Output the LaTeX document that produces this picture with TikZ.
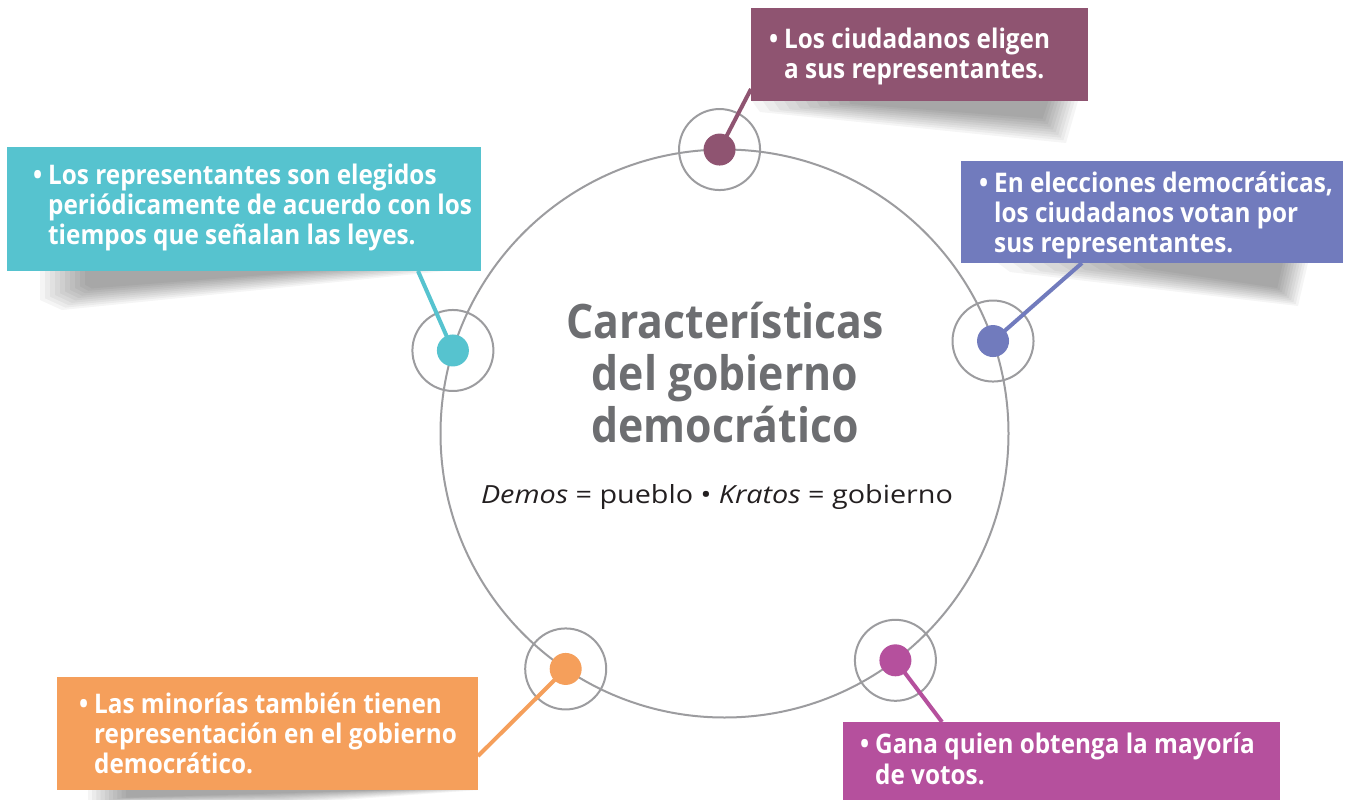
\documentclass[tikz,border=0pt]{standalone}
\usepackage{fontspec}
\setmainfont{Open Sans}[FakeStretch=0.9]
\newfontfamily\subfont{Open Sans}[FakeStretch=1.15]
\usetikzlibrary{calc}
\definecolor{cPurple}{HTML}{8F5471}
\definecolor{cCyan}{HTML}{56C3CF}
\definecolor{cBlue}{HTML}{717BBD}
\definecolor{cOrange}{HTML}{F59F5B}
\definecolor{cMagenta}{HTML}{B5509D}
\definecolor{cRing}{HTML}{9C9C9F}
\definecolor{cTitle}{HTML}{6D6E71}
\definecolor{cInk}{HTML}{231F20}
% soft shadow: quadrilateral blended from an outer outline (odd args) to an inner core (even args)
\newcommand\softshadow[8]{%
  \foreach \t in {0,0.1,...,0.95}{%
    \fill[shadowlayer] ($#1!\t!#2$) -- ($#3!\t!#4$) -- ($#5!\t!#6$) -- ($#7!\t!#8$) -- cycle;}}
\begin{document}
\begin{tikzpicture}[x=1pt,y=-1pt,
  shadowlayer/.style={fill=black, fill opacity=0.04},
  ring/.style={circle, draw=cRing, line width=2pt, inner sep=0pt, outer sep=0pt},
  smallring/.style={ring, minimum size=81pt},
  dot/.style={circle, inner sep=0pt, outer sep=0pt, minimum size=32pt},
  conn/.style={line width=4pt},
  box/.style={rectangle, inner sep=0pt, outer sep=0pt, anchor=north west},
  btext/.style={text=white, font=\fontsize{27}{30}\selectfont\bfseries, align=left, inner sep=0pt, anchor=base west},
  titletext/.style={text=cTitle, font=\fontsize{47.5}{52}\selectfont\bfseries, align=center, inner sep=0pt, anchor=base},
  subtext/.style={text=cInk, font=\subfont\fontsize{25}{28}\selectfont, inner sep=0pt, anchor=base}
]
\useasboundingbox (0,0) rectangle (1345,800);
\fill[white] (0,0) rectangle (1345,800);

% shadows
\softshadow{(752,101)}{(860,101)}{(1078,101)}{(1045,101)}{(1066,143)}{(1040,116)}{(760,112)}{(860,103)}
\softshadow{(40,271)}{(90,271)}{(445,271)}{(300,271)}{(62,310)}{(95,286)}{(40,300)}{(90,283)}
\softshadow{(998,263)}{(1150,263)}{(1308,263)}{(1280,263)}{(1298,306)}{(1275,286)}{(1010,272)}{(1160,268)}
\softshadow{(88,790)}{(130,790)}{(480,790)}{(380,790)}{(300,803)}{(250,793)}{(88,803)}{(130,797)}

% main circle
\node[ring, minimum size=568pt] (main) at (724.5,433.5) {};

% small rings
\node[smallring] (r1) at (main.91.5) {};
\node[smallring] (r2) at (main.163.8) {};
\node[smallring] (r3) at (main.19.3) {};
\node[smallring] (r4) at (main.236) {};
\node[smallring] (r5) at (main.307.7) {};

% connector ends on the boxes
\coordinate (e1) at (751,89);
\coordinate (e2) at (418,271);
\coordinate (e3) at (1082,263);
\coordinate (e4) at (478,756);
\coordinate (e5) at (942,722);

\draw[conn, cPurple] (r1.center) -- (e1);
\draw[conn, cCyan] (r2.center) -- (e2);
\draw[conn, cBlue] (r3.center) -- (e3);
\draw[conn, cOrange] (r4.center) -- (e4);
\draw[conn, cMagenta] (r5.center) -- (e5);

% dots
\node[dot, fill=cPurple] (d1) at (r1.center) {};
\node[dot, fill=cCyan] (d2) at (r2.center) {};
\node[dot, fill=cBlue] (d3) at (r3.center) {};
\node[dot, fill=cOrange] (d4) at (r4.center) {};
\node[dot, fill=cMagenta] (d5) at (r5.center) {};

% boxes
\node[box, fill=cPurple, minimum width=337pt, minimum height=93pt] (b1) at (751,8) {};
\node[box, fill=cCyan, minimum width=474pt, minimum height=124pt] (b2) at (7,147) {};
\node[box, fill=cBlue, minimum width=382pt, minimum height=102pt] (b3) at (961,161) {};
\node[box, fill=cOrange, minimum width=421pt, minimum height=113pt] (b4) at (57,677) {};
\node[box, fill=cMagenta, minimum width=437pt, minimum height=80pt] (b5) at (843,722) {};

% box texts (anchor = baseline of the last line)
\node[btext] (t1) at (784,78) {\llap{•\hspace{6pt}}Los ciudadanos eligen\\a sus representantes.};
\node[btext] (t2) at (48,244) {\llap{•\hspace{6pt}}Los representantes son elegidos\\periódicamente de acuerdo con los\\tiempos que señalan las leyes.};
\node[btext] (t3) at (994,252) {\llap{•\hspace{6pt}}En elecciones democráticas,\\los ciudadanos votan por\\sus representantes.};
\node[btext] (t4) at (94,773) {\llap{•\hspace{6pt}}Las minorías también tienen\\representación en el gobierno\\democrático.};
\node[btext, font=\fontsize{27}{31}\selectfont\bfseries] (t5) at (875,784) {\llap{•\hspace{6pt}}Gana quien obtenga la mayoría\\de votos.};

% centre text
\node[titletext] (title) at (725,442) {Características\\del gobierno\\democrático};
\node[subtext] (sub) at (717,503) {\textit{Demos} = pueblo • \textit{Kratos} = gobierno};
\end{tikzpicture}
\end{document}
